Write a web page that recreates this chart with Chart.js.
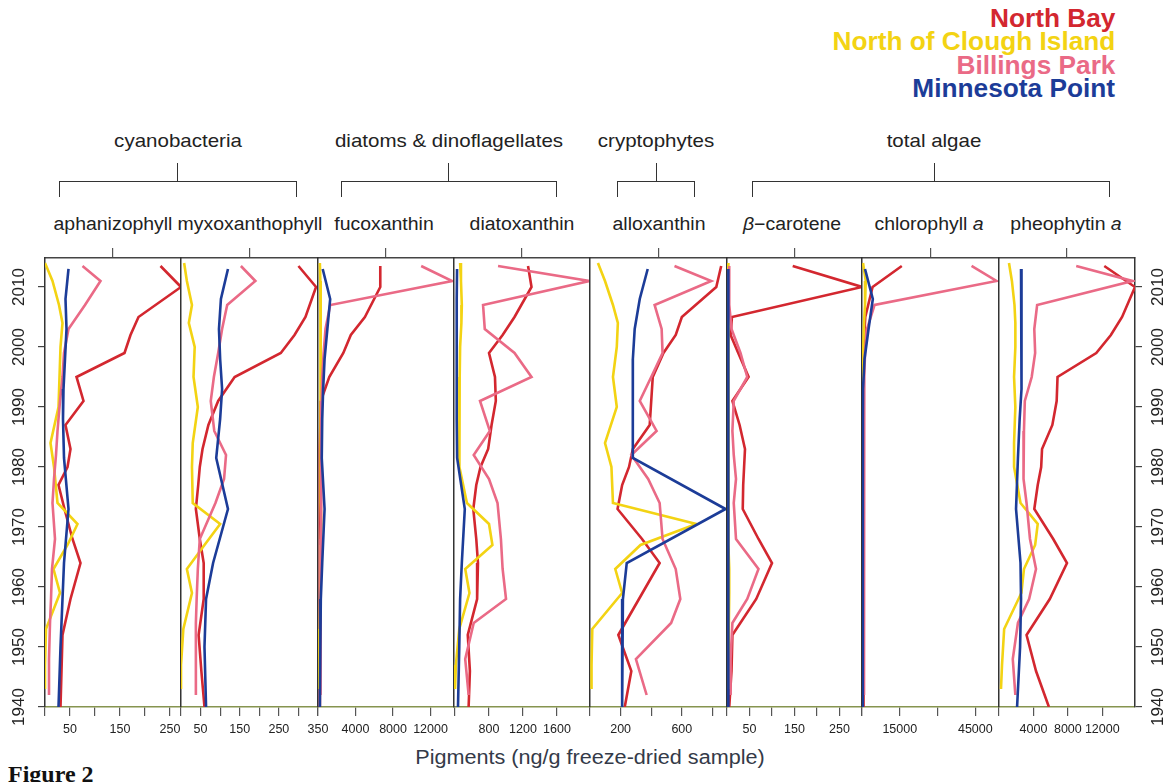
<!DOCTYPE html>
<html>
<head>
<meta charset="utf-8">
<title>Pigment profiles</title>
<script src="https://cdn.jsdelivr.net/npm/chart.js@4.4.1/dist/chart.umd.min.js"></script>
<style>
  html, body { margin: 0; padding: 0; background: #fff; overflow: hidden; }
  #wrap { position: relative; width: 1175px; height: 782px; font-family: 'Liberation Sans', Arial, sans-serif; color: #222; }
  #wrap canvas { position: absolute; left: 0; top: 0; }
  .leg { position: absolute; right: 60px; font-weight: bold; font-size: 25px; line-height: 24px; white-space: nowrap;
         transform: scaleX(1.05); transform-origin: right center; }
  .lbl { position: absolute; white-space: nowrap; transform: translate(-50%, -50%) scaleX(1.08); }
  .grp { font-size: 19px; }
  .pig { font-size: 18px; }
  .brk { position: absolute; top: 181px; height: 16px; border: 1.5px solid #333; border-bottom: none; box-sizing: border-box; }
  .stem { position: absolute; top: 163px; height: 19px; width: 0; border-left: 1.5px solid #333; }
  #xtitle { font-size: 20px; color: #343a48; }
  #fig { position: absolute; left: 8px; top: 762px; font: bold 24px 'Liberation Serif', 'Times New Roman', serif; line-height: 24px; color: #111; }
</style>
</head>
<body>
<div id="wrap">
  <div class="leg" style="top:6px;color:#d3272f">North Bay</div>
  <div class="leg" style="top:29px;color:#f3d313">North of Clough Island</div>
  <div class="leg" style="top:53px;color:#ea6a86">Billings Park</div>
  <div class="leg" style="top:76px;color:#1c3c98">Minnesota Point</div>

  <div class="lbl grp" style="left:178px;top:141px">cyanobacteria</div>
  <div class="lbl grp" style="left:449px;top:141px">diatoms &amp; dinoflagellates</div>
  <div class="lbl grp" style="left:656px;top:141px">cryptophytes</div>
  <div class="lbl grp" style="left:934px;top:141px">total algae</div>

  <div class="brk" style="left:59px;width:238px"></div><div class="stem" style="left:177px"></div>
  <div class="brk" style="left:341px;width:216px"></div><div class="stem" style="left:448px"></div>
  <div class="brk" style="left:617px;width:78px"></div><div class="stem" style="left:656px"></div>
  <div class="brk" style="left:752px;width:358px"></div><div class="stem" style="left:934px"></div>

  <div class="lbl pig" style="left:113px;top:224px">aphanizophyll</div>
  <div class="lbl pig" style="left:250px;top:224px">myxoxanthophyll</div>
  <div class="lbl pig" style="left:384px;top:224px">fucoxanthin</div>
  <div class="lbl pig" style="left:522px;top:224px">diatoxanthin</div>
  <div class="lbl pig" style="left:659px;top:224px">alloxanthin</div>
  <div class="lbl pig" style="left:792px;top:224px"><i>β</i>−carotene</div>
  <div class="lbl pig" style="left:929px;top:224px">chlorophyll <i>a</i></div>
  <div class="lbl pig" style="left:1066px;top:224px">pheophytin <i>a</i></div>

  <div class="lbl" id="xtitle" style="left:590px;top:757px">Pigments (ng/g freeze-dried sample)</div>
  <div id="fig">Figure 2</div>
</div>

<script>
// sample years (top of core first) for each site
const yearsNorthBay = [2013.5, 2010, 2005, 2002, 1999, 1995, 1991, 1987, 1983, 1980, 1977, 1973, 1968, 1964, 1958, 1952, 1946, 1940];
const yearsClough = [2014, 2011, 2007, 2004, 2000, 1995, 1990, 1984, 1980, 1974, 1970.5, 1967, 1963, 1959, 1953, 1947, 1943];
const yearsBillings = [2013.5, 2011, 2007, 2003, 1999, 1995, 1991, 1986, 1982, 1978, 1974, 1968, 1963, 1958, 1954, 1948, 1942];
const yearsMinnesota = [2013, 2008, 2003, 1998, 1993, 1988, 1981.5, 1973, 1964, 1958, 1950, 1940];

// aphanizophyll
const aphaNB = [231, 272, 187, 171, 159, 63, 77, 41, 51, 45, 27, 39, 55, 71, 51, 35, 33, 31];
const aphaCI = [0, 15, 28, 35, 31, 29, 27, 11, 18, 25, 65, 45, 17, 30, 2, 0, 0];
const aphaBP = [75, 111, 80, 47, 38, 35, 30, 25, 22, 18, 15, 20, 14, 12, 10, 8, 8];
const aphaMP = [47, 41, 43, 40, 37, 36, 38, 47, 38, 35, 31, 27];

// myxoxanthophyll
const myxoNB = [300, 345, 318, 290, 255, 137, 95, 70, 55, 48, 44, 38, 48, 58, 58, 45, 52, 60];
const myxoCI = [8, 15, 28, 20, 35, 32, 43, 30, 28, 30, 100, 60, 15, 28, 6, 0, 0];
const myxoBP = [153, 190, 118, 105, 95, 84, 76, 85, 115, 110, 88, 48, 43, 40, 38, 38, 38];
const myxoMP = [120, 102, 97, 100, 105, 100, 90, 120, 82, 64, 60, 64];

// fucoxanthin
const fucoNB = [6640, 6640, 5000, 3500, 2700, 1200, 300, 250, 200, 200, 200, 200, 200, 200, 200, 200, 200, 200];
const fucoCI = [200, 250, 300, 300, 300, 300, 300, 250, 250, 300, 350, 300, 250, 250, 200, 150, 100];
const fucoBP = [11000, 14300, 1300, 800, 600, 450, 400, 350, 350, 350, 350, 300, 300, 300, 250, 250, 250];
const fucoMP = [500, 1300, 1000, 700, 550, 450, 400, 700, 450, 300, 250, 200];

// diatoxanthin
const diatoNB = [1259, 1300, 1100, 960, 800, 870, 880, 830, 790, 700, 650, 615, 650, 670, 660, 550, 575, 560];
const diatoCI = [460, 470, 480, 475, 460, 455, 455, 450, 450, 540, 800, 840, 520, 570, 450, 410, 400];
const diatoBP = [906, 1980, 730, 750, 1100, 1300, 694, 810, 620, 800, 900, 940, 960, 1000, 620, 520, 560];
const diatoMP = [424, 420, 420, 420, 420, 420, 425, 515, 480, 460, 450, 435];

// alloxanthin
const alloNB = [857, 825, 600, 560, 480, 410, 400, 390, 280, 255, 210, 180, 340, 455, 320, 185, 270, 227];
const alloCI = [52, 98, 150, 182, 175, 150, 175, 98, 140, 150, 695, 330, 165, 210, 15, 10, 10];
const alloBP = [552, 792, 422, 468, 474, 400, 325, 435, 270, 380, 455, 474, 560, 590, 530, 300, 370];
const alloMP = [377, 325, 292, 280, 280, 280, 279, 885, 240, 215, 210, 210];

// beta-carotene
const betaNB = [146, 300, 11, 8, 25, 48, 12, 28, 40, 38, 36, 35, 70, 100, 65, 12, 10, 5];
const betaCI = [3, 3, 3, 3, 3, 3, 3, 3, 3, 3, 3, 4, 5, 5, 4, 3, 3];
const betaBP = [5, 5, 5, 10, 30, 45, 15, 12, 15, 20, 15, 20, 70, 45, 12, 8, 8];
const betaMP = [3, 3, 3, 3, 3, 3, 3, 3, 3, 3, 3, 3];

// chlorophyll a
const chlaNB = [15800, 4200, 1300, 900, 700, 600, 600, 600, 600, 600, 600, 600, 600, 600, 600, 600, 600, 600];
const chlaCI = [400, 1500, 1200, 800, 500, 400, 400, 400, 400, 400, 400, 400, 400, 400, 300, 300, 300];
const chlaBP = [43500, 53400, 5000, 2000, 1200, 900, 800, 800, 800, 800, 800, 800, 800, 800, 800, 800, 800];
const chlaMP = [1200, 4300, 2600, 1000, 400, 350, 350, 300, 300, 300, 300, 300];

// pheophytin a
const pheoNB = [12230, 15800, 14300, 13000, 11300, 6800, 6700, 6200, 5000, 4900, 4500, 4100, 6300, 7900, 5900, 3200, 4300, 5800];
const pheoCI = [1160, 1500, 1800, 1900, 1900, 1750, 1900, 1750, 1750, 2500, 4500, 4200, 2900, 2600, 600, 350, 230];
const pheoBP = [8970, 15500, 4430, 4100, 4200, 3800, 3000, 2900, 2800, 2900, 3200, 3600, 4300, 3500, 2200, 1600, 1900];
const pheoMP = [2560, 2650, 2650, 2600, 2560, 2400, 2200, 1980, 2500, 2560, 2450, 2100];

// axis ranges and tick labels per panel
const xMin = [0, 0, 0, 388, 0, 0, 0, 0];
const xMax = [272, 350, 14500, 1988, 895, 300, 54400, 15800];
const xTicks = [
  [0, 50, 100, 150, 200, 250],
  [0, 50, 100, 150, 200, 250, 300, 350],
  [0, 4000, 8000, 12000],
  [400, 800, 1200, 1600],
  [0, 200, 400, 600, 800],
  [0, 50, 100, 150, 200, 250, 300],
  [0, 15000, 30000, 45000],
  [0, 4000, 8000, 12000]
];
const xLabels = [
  [50, 150, 250],
  [50, 150, 250, 350],
  [4000, 8000, 12000],
  [800, 1200, 1600],
  [200, 600],
  [50, 150, 250],
  [15000, 45000],
  [4000, 8000, 12000]
];
const yearTicks = [1940, 1950, 1960, 1970, 1980, 1990, 2000, 2010];
const yearMin = 1940;
const yearMax = 2014.83;

const siteNames = ["North Bay", "North of Clough Island", "Billings Park", "Minnesota Point"];
const siteColors = ["#d3272f", "#f3d313", "#ea6a86", "#1c3c98"];
const siteYears = [yearsNorthBay, yearsClough, yearsBillings, yearsMinnesota];
const panelSeries = [
  [aphaNB, aphaCI, aphaBP, aphaMP],
  [myxoNB, myxoCI, myxoBP, myxoMP],
  [fucoNB, fucoCI, fucoBP, fucoMP],
  [diatoNB, diatoCI, diatoBP, diatoMP],
  [alloNB, alloCI, alloBP, alloMP],
  [betaNB, betaCI, betaBP, betaMP],
  [chlaNB, chlaCI, chlaBP, chlaMP],
  [pheoNB, pheoCI, pheoBP, pheoMP]
];

// layout of the panels on the page
const W = 1175, H = 782;
const panelEdges = [45, 181, 318, 454, 590, 727, 862, 999, 1135];
const plotTop = 258, plotBottom = 707;
const xAxisBox = 34;   // room below the panels for ticks + labels

Chart.defaults.font.family = "'Liberation Sans', Arial, sans-serif";
Chart.defaults.color = "#222";

// year axis; the box width must be real, labels get clipped to it
function yAxis(position, showLabels, pad, boxWidth) {
  return {
    type: "linear", axis: "y", position: position, bounds: "data",
    min: yearMin, max: yearMax,
    afterBuildTicks: s => { s.ticks = yearTicks.map(v => ({ value: v })); },
    afterFit: s => { s.width = boxWidth; },
    grid: { display: showLabels, drawOnChartArea: false, drawTicks: true, tickLength: 7, color: "#444", lineWidth: 1.2 },
    border: { display: true, color: "#333", width: 1.5 },
    ticks: {
      display: showLabels, autoSkip: false, minRotation: 90, maxRotation: 90,
      crossAlign: "center", padding: pad, color: "#222", font: { size: 17 },
      callback: v => String(v)
    }
  };
}

const wrap = document.getElementById("wrap");
const lastPanel = panelSeries.length - 1;

panelSeries.forEach((series, i) => {
  const canvas = document.createElement("canvas");
  canvas.width = W;
  canvas.height = H;
  wrap.appendChild(canvas);

  const datasets = series.map((vals, s) => ({
    label: siteNames[s],
    data: siteYears[s].map((yr, k) => ({ x: vals[k], y: yr })),
    showLine: true,
    borderColor: siteColors[s],
    backgroundColor: siteColors[s],
    borderWidth: 2.6,
    pointRadius: 0,
    tension: 0,
    order: 4 - s,
    xAxisID: "x",
    yAxisID: "y"
  }));

  const leftBox = i === 0 ? panelEdges[0] : 0;
  const rightBox = i === lastPanel ? W - panelEdges[8] : 0;

  const scales = {
    x: {
      type: "linear", position: "bottom", bounds: "data",
      min: xMin[i], max: xMax[i],
      afterBuildTicks: s => { s.ticks = xTicks[i].map(v => ({ value: v })); },
      afterFit: s => { s.height = xAxisBox; },
      grid: { display: true, drawOnChartArea: false, drawTicks: true, tickLength: 9, color: "#555", lineWidth: 1.2 },
      border: { display: true, color: "#86944f", width: 1.5 },
      ticks: {
        autoSkip: false, maxRotation: 0, padding: 6, color: "#222", font: { size: 12.5 },
        callback: v => xLabels[i].includes(v) ? String(v) : ""
      }
    },
    xTop: {
      type: "linear", axis: "x", position: "top", bounds: "data", min: 0, max: 1,
      afterBuildTicks: s => { s.ticks = [{ value: 0.5 }]; },
      afterFit: s => { s.height = 0; },
      grid: { display: true, drawOnChartArea: false, drawTicks: true, tickLength: 10, color: "#555", lineWidth: 1.2 },
      border: { display: true, color: "#444", width: 1.5 },
      ticks: { display: false }
    },
    y: yAxis("left", i === 0, 0, leftBox)
  };
  if (i === lastPanel) {
    scales.yRight = yAxis("right", true, -3, rightBox);
  }

  new Chart(canvas, {
    type: "scatter",
    data: { datasets: datasets },
    options: {
      responsive: false,
      animation: false,
      events: [],
      layout: {
        padding: {
          left: panelEdges[i] - leftBox,
          right: W - panelEdges[i + 1] - rightBox,
          top: plotTop,
          bottom: H - plotBottom - xAxisBox
        }
      },
      plugins: { legend: { display: false }, tooltip: { enabled: false } },
      scales: scales
    }
  });
});
</script>
</body>
</html>
